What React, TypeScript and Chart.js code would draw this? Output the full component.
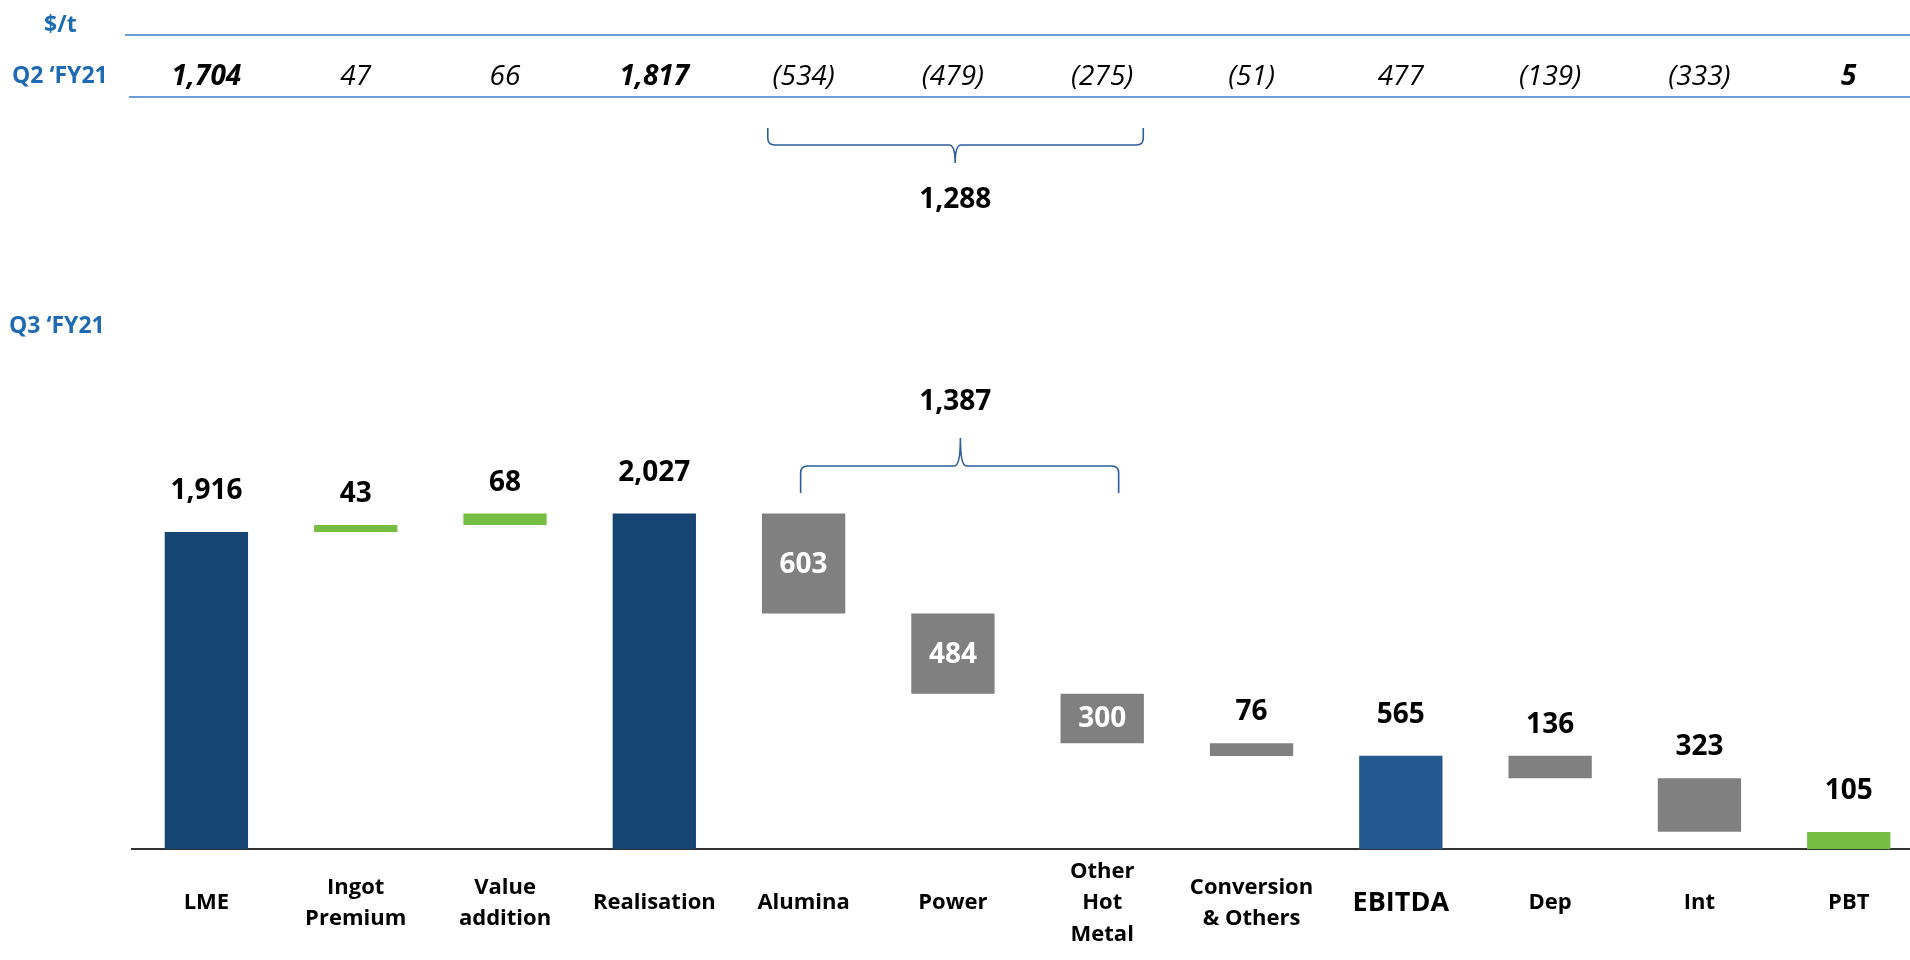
import { useEffect, useRef } from "react";
import { Chart, registerables } from "chart.js";

Chart.register(...registerables);

// ---------- data ----------
const categories: (string | string[])[] = [
  "LME",
  ["Ingot", "Premium"],
  ["Value", "addition"],
  "Realisation",
  "Alumina",
  "Power",
  ["Other", "Hot", "Metal"],
  ["Conversion", "& Others"],
  "EBITDA",
  "Dep",
  "Int",
  "PBT",
];
const q3Values = [1916, 43, 68, 2027, 603, 484, 300, 76, 565, 136, 323, 105];
const stepKinds = ["total", "up", "up", "total", "down", "down", "down", "down", "total", "down", "down", "total"];
const q2Values = [1704, 47, 66, 1817, -534, -479, -275, -51, 477, -139, -333, 5];
const q2BoldIndices = [0, 3, 11];
const bracketFrom = 4;
const bracketTo = 6;
const unitLabel = "$/t";
const q2Label = "Q2 \u2018FY21";
const q3Label = "Q3 \u2018FY21";

// ---------- styles ----------
const NAVY = "#164473";
const EBITDA_BLUE = "#245890";
const GREEN = "#76BE43";
const GRAY = "#808080";
const HEAD_BLUE = "#1F6BB3";
const RULE_BLUE = "#6A9FD6";
const BRACE_BLUE = "#2B5E9A";
const barColors = [NAVY, GREEN, GREEN, NAVY, GRAY, GRAY, GRAY, GRAY, EBITDA_BLUE, GRAY, GRAY, GREEN];
const FONT = '"Open Sans", "Noto Sans", sans-serif';

const CANVAS_W = 1930;
const CANVAS_H = 960;
const BASELINE_Y = 849.3;

function buildRanges(): [number, number][] {
  let run = 0;
  return q3Values.map((v, i) => {
    const k = stepKinds[i];
    if (k === "total") {
      run = v;
      return [0, v];
    }
    if (k === "up") {
      const r: [number, number] = [run, run + v];
      run += v;
      return r;
    }
    const r: [number, number] = [run - v, run];
    run -= v;
    return r;
  });
}

const fmt = (v: number) => Math.abs(v).toLocaleString("en-US");
const fmtQ2 = (v: number) => (v < 0 ? `(${fmt(v)})` : fmt(v));

function drawBrace(
  ctx: CanvasRenderingContext2D,
  x1: number,
  x2: number,
  xm: number,
  yEnd: number,
  yLine: number,
  yTip: number
) {
  const d = Math.sign(yLine - yEnd);
  const r = 7;
  const t = 6;
  ctx.beginPath();
  ctx.moveTo(x1, yEnd);
  ctx.lineTo(x1, yLine - d * r);
  ctx.quadraticCurveTo(x1, yLine, x1 + r, yLine);
  ctx.lineTo(xm - t, yLine);
  ctx.quadraticCurveTo(xm, yLine, xm, yTip);
  ctx.quadraticCurveTo(xm, yLine, xm + t, yLine);
  ctx.lineTo(x2 - r, yLine);
  ctx.quadraticCurveTo(x2, yLine, x2, yLine - d * r);
  ctx.lineTo(x2, yEnd);
  ctx.stroke();
}

const overlayPlugin = {
  id: "overlay",
  afterDatasetsDraw(chart: any) {
    const ctx: CanvasRenderingContext2D = chart.ctx;
    const xs = chart.scales.x;
    const meta = chart.getDatasetMeta(0);
    const W = chart.width;
    ctx.save();

    // header labels
    ctx.fillStyle = HEAD_BLUE;
    ctx.font = `bold 23px ${FONT}`;
    ctx.textAlign = "left";
    ctx.textBaseline = "middle";
    ctx.fillText(unitLabel, 44, 25);
    ctx.fillText(q2Label, 12, 76);
    ctx.fillText(q3Label, 9, 326);

    // table rules
    ctx.strokeStyle = RULE_BLUE;
    ctx.lineWidth = 2;
    ctx.beginPath();
    ctx.moveTo(125, 35);
    ctx.lineTo(W, 35);
    ctx.moveTo(129, 97);
    ctx.lineTo(W, 97);
    ctx.stroke();

    // Q2 row
    ctx.fillStyle = "#000";
    ctx.textAlign = "center";
    q2Values.forEach((v, i) => {
      const bold = q2BoldIndices.includes(i);
      ctx.font = `italic ${bold ? "bold " : ""}28px ${FONT}`;
      ctx.fillText(fmtQ2(v), xs.getPixelForValue(i), 77);
    });

    // bar labels
    meta.data.forEach((bar: any, i: number) => {
      const p = bar.getProps(["x", "y", "base"], true);
      const top = Math.min(p.y, p.base);
      const bottom = Math.max(p.y, p.base);
      ctx.font = `bold 28px ${FONT}`;
      if (i >= bracketFrom && i <= bracketTo) {
        ctx.fillStyle = "#fff";
        ctx.fillText(fmt(q3Values[i]), p.x, (top + bottom) / 2 + 1);
      } else {
        ctx.fillStyle = "#000";
        const gap = stepKinds[i] === "total" ? 41 : 31;
        ctx.fillText(fmt(q3Values[i]), p.x, top - gap);
      }
    });

    // brackets
    const step = xs.getPixelForValue(1) - xs.getPixelForValue(0);
    const cA = xs.getPixelForValue(bracketFrom);
    const cB = xs.getPixelForValue(bracketTo);
    const cM = xs.getPixelForValue((bracketFrom + bracketTo) / 2);
    ctx.strokeStyle = BRACE_BLUE;
    ctx.lineWidth = 1.6;
    drawBrace(ctx, cA - 0.24 * step, cB + 0.275 * step, cM + 0.015 * step, 128, 145, 163);
    drawBrace(ctx, cA - 0.02 * step, cB + 0.11 * step, cM + 0.05 * step, 493, 466, 438);

    let q2Sum = 0;
    let q3Sum = 0;
    for (let i = bracketFrom; i <= bracketTo; i++) {
      q2Sum += Math.abs(q2Values[i]);
      q3Sum += q3Values[i];
    }
    ctx.fillStyle = "#000";
    ctx.font = `bold 28px ${FONT}`;
    ctx.textAlign = "center";
    ctx.fillText(fmt(q2Sum), cM + 0.015 * step, 200);
    ctx.fillText(fmt(q3Sum), cM + 0.015 * step, 402);

    ctx.restore();
  },
};

export default function App() {
  const ref = useRef<HTMLCanvasElement | null>(null);

  useEffect(() => {
    const canvas = ref.current;
    if (!canvas) return;
    const ranges = buildRanges();
    const chart = new Chart(canvas, {
      type: "bar",
      data: {
        labels: categories as any,
        datasets: [
          {
            data: ranges as any,
            backgroundColor: barColors,
            borderWidth: 0,
            borderSkipped: false,
            barPercentage: 0.558,
            categoryPercentage: 1,
          },
        ],
      },
      options: {
        animation: false,
        responsive: false,
        devicePixelRatio: 1,
        layout: { padding: { left: 131.75, right: CANVAS_W - 1923.4, top: 0, bottom: 0 } },
        plugins: {
          legend: { display: false },
          tooltip: { enabled: false },
          title: { display: false },
        },
        scales: {
          y: {
            display: false,
            min: 0,
            max: BASELINE_Y / ((BASELINE_Y - 532) / 1916),
          },
          x: {
            grid: { display: false, drawTicks: false },
            border: { display: true, color: "#333333", width: 2 },
            ticks: {
              color: "#000",
              autoSkip: false,
              maxRotation: 0,
              minRotation: 0,
              crossAlign: "center",
              padding: 22,
              font: (c: any) =>
                c.index === 8
                  ? { family: FONT, weight: "bold", size: 27, lineHeight: 1.2 }
                  : { family: FONT, weight: "bold", size: 22, lineHeight: 1.45 },
            },
            afterFit: (s: any) => {
              s.height = CANVAS_H - BASELINE_Y;
            },
          },
        },
      } as any,
      plugins: [overlayPlugin],
    });
    return () => chart.destroy();
  }, []);

  return (
    <div
      style={{
        position: "fixed",
        left: 0,
        top: 0,
        width: 1910,
        height: 960,
        overflow: "hidden",
        background: "#fff",
      }}
    >
      <canvas ref={ref} width={CANVAS_W} height={CANVAS_H} style={{ display: "block", width: CANVAS_W, height: CANVAS_H }} />
    </div>
  );
}
